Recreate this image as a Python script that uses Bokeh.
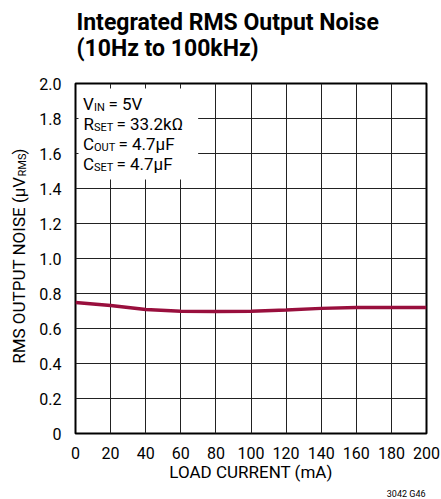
import math
from bokeh.plotting import figure
from bokeh.models import Label, FixedTicker, BoxAnnotation, Range1d
from bokeh.layouts import row, column
from bokeh.core.properties import value
from bokeh.embed import file_html
from bokeh.resources import INLINE

# ---- data ----
load_current_ma = [0, 20, 40, 60, 80, 100, 120, 140, 160, 180, 200]
noise_uvrms = [0.749, 0.731, 0.708, 0.698, 0.697, 0.699, 0.706, 0.715, 0.720, 0.720, 0.720]
x_ticks = [0, 20, 40, 60, 80, 100, 120, 140, 160, 180, 200]
y_ticks = [0, 0.2, 0.4, 0.6, 0.8, 1.0, 1.2, 1.4, 1.6, 1.8, 2.0]
y_tick_labels = ["0", "0.2", "0.4", "0.6", "0.8", "1.0", "1.2", "1.4", "1.6", "1.8", "2.0"]
title_lines = ["Integrated RMS Output Noise", "(10Hz to 100kHz)"]
x_axis_title = "LOAD CURRENT (mA)"

FONT = "Roboto"
LINE_COLOR = "#990f3d"

# page layout (picture pixels)
TOTAL_W, TOTAL_H = 441, 499
LEFT_W = 36          # strip holding the rotated y-axis label
TOP_H = 68           # strip holding the title
BOTTOM_H = 37        # strip holding the x-axis title and the figure code
MAIN_W = TOTAL_W - LEFT_W
MAIN_H = TOTAL_H - TOP_H - BOTTOM_H
FL, FR, FT, FB = 74, 426, 83, 433  # frame edges in picture pixels


def strip(w, h, x0, x1, y0, y1, bl=0, br=0):
    f = figure(width=w, height=h, output_backend="svg", toolbar_location=None,
               title=None, x_axis_type=None, y_axis_type=None,
               x_range=Range1d(x0, x1), y_range=Range1d(y1, y0),
               min_border=0, min_border_left=bl, min_border_right=br,
               min_border_top=0, min_border_bottom=0)
    f.title = None
    f.outline_line_color = None
    f.background_fill_color = "white"
    f.border_fill_color = "white"
    return f


# ---- main plot ----
p = figure(width=MAIN_W, height=MAIN_H, output_backend="svg", toolbar_location=None,
           title=None, x_range=Range1d(0, 200), y_range=Range1d(0, 2.0),
           min_border_left=FL - LEFT_W, min_border_right=TOTAL_W - FR,
           min_border_top=FT - TOP_H, min_border_bottom=(TOP_H + MAIN_H) - FB)
p.title = None
p.background_fill_color = "white"
p.border_fill_color = "white"
p.outline_line_color = "black"
p.outline_line_width = 2

for ax in (p.xaxis[0], p.yaxis[0]):
    ax.axis_line_color = None
    ax.major_tick_line_color = None
    ax.minor_tick_line_color = None
    ax.major_label_text_font = FONT
    ax.major_label_text_font_size = "16px"
    ax.major_label_text_color = "black"
    ax.major_label_standoff = 7
p.xaxis.ticker = FixedTicker(ticks=x_ticks)
p.yaxis.ticker = FixedTicker(ticks=y_ticks)
p.yaxis.major_label_overrides = {t: l for t, l in zip(y_ticks, y_tick_labels)}
p.xaxis.major_label_overrides = {t: str(t) for t in x_ticks}
p.yaxis.major_label_standoff = 8

p.xgrid.ticker = FixedTicker(ticks=x_ticks)
p.ygrid.ticker = FixedTicker(ticks=y_ticks)
for g in (p.xgrid[0], p.ygrid[0]):
    g.grid_line_color = "#222222"
    g.grid_line_width = 1


def dx(px):
    return (px - FL) * 200.0 / (FR - FL)


def dy(py):
    return (FB - py) * 2.0 / (FB - FT)


p.line(load_current_ma, noise_uvrms, line_color=LINE_COLOR, line_width=3.5)

# white legend box
p.add_layout(BoxAnnotation(left=dx(77), right=dx(197), top=dy(88), bottom=dy(179),
                           fill_color="white", fill_alpha=1.0, line_color=None, level="annotation"))


def lab(x, y, text, size, align="left"):
    p.add_layout(Label(x=x, y=y, text=text, text_font=FONT, text_font_size=f"{size}px",
                       text_align=align, text_baseline="alphabetic",
                       text_color="black", level="overlay"))


lines = [("V", "IN", "= 5V", 103, 107),
         ("R", "SET", "= 33.2k\u03a9", 123, 115),
         ("C", "OUT", "= 4.7\u00b5F", 143, 117),
         ("C", "SET", "= 4.7\u00b5F", 163, 115)]
for main, sub, rest, base, restx in lines:
    lab(dx(92.5), dy(base), main, 17, align="right")
    lab(dx(92.5), dy(base + 4), sub, 11)
    lab(dx(restx), dy(base), rest, 17)

# ---- title strip (x in picture pixels, frame aligned with main frame) ----
top = strip(MAIN_W, TOP_H, FL, FR, 0, TOP_H, bl=FL - LEFT_W, br=TOTAL_W - FR)
top.text(x=[75, 75], y=[22, 48], text=title_lines,
         text_font=value(FONT), text_font_size="23px", text_font_style="bold",
         text_color="black", text_align="left", text_baseline="alphabetic")

# ---- y label strip (picture pixels) ----
left = strip(LEFT_W, TOTAL_H, 0, LEFT_W, 0, TOTAL_H)
left.text(x=[18], y=[176], text=["RMS OUTPUT NOISE (\u00b5V"], angle=math.pi / 2,
          text_font=value(FONT), text_font_size="17px", text_color="black",
          text_align="right", text_baseline="alphabetic")
left.text(x=[22], y=[176], text=["RMS"], angle=math.pi / 2,
          text_font=value(FONT), text_font_size="11px", text_color="black",
          text_align="left", text_baseline="alphabetic")
left.text(x=[18], y=[154], text=[")"], angle=math.pi / 2,
          text_font=value(FONT), text_font_size="17px", text_color="black",
          text_align="left", text_baseline="alphabetic")

# ---- bottom strip (x-axis title and figure code) ----
y_bot = TOTAL_H - BOTTOM_H
bottom = strip(MAIN_W, BOTTOM_H, FL, FR, y_bot, TOTAL_H, bl=FL - LEFT_W, br=TOTAL_W - FR)
bottom.text(x=[(FL + FR) / 2], y=[471], text=[x_axis_title],
            text_font=value(FONT), text_font_size="17px", text_color="black",
            text_align="center", text_baseline="alphabetic")
bottom.text(x=[425], y=[493], text=["3042 G46"],
            text_font=value(FONT), text_font_size="9px", text_color="black",
            text_align="right", text_baseline="alphabetic")

layout = row(left, column(top, p, bottom, spacing=0), spacing=0)
open("out.html", "w").write(file_html(layout, INLINE))
